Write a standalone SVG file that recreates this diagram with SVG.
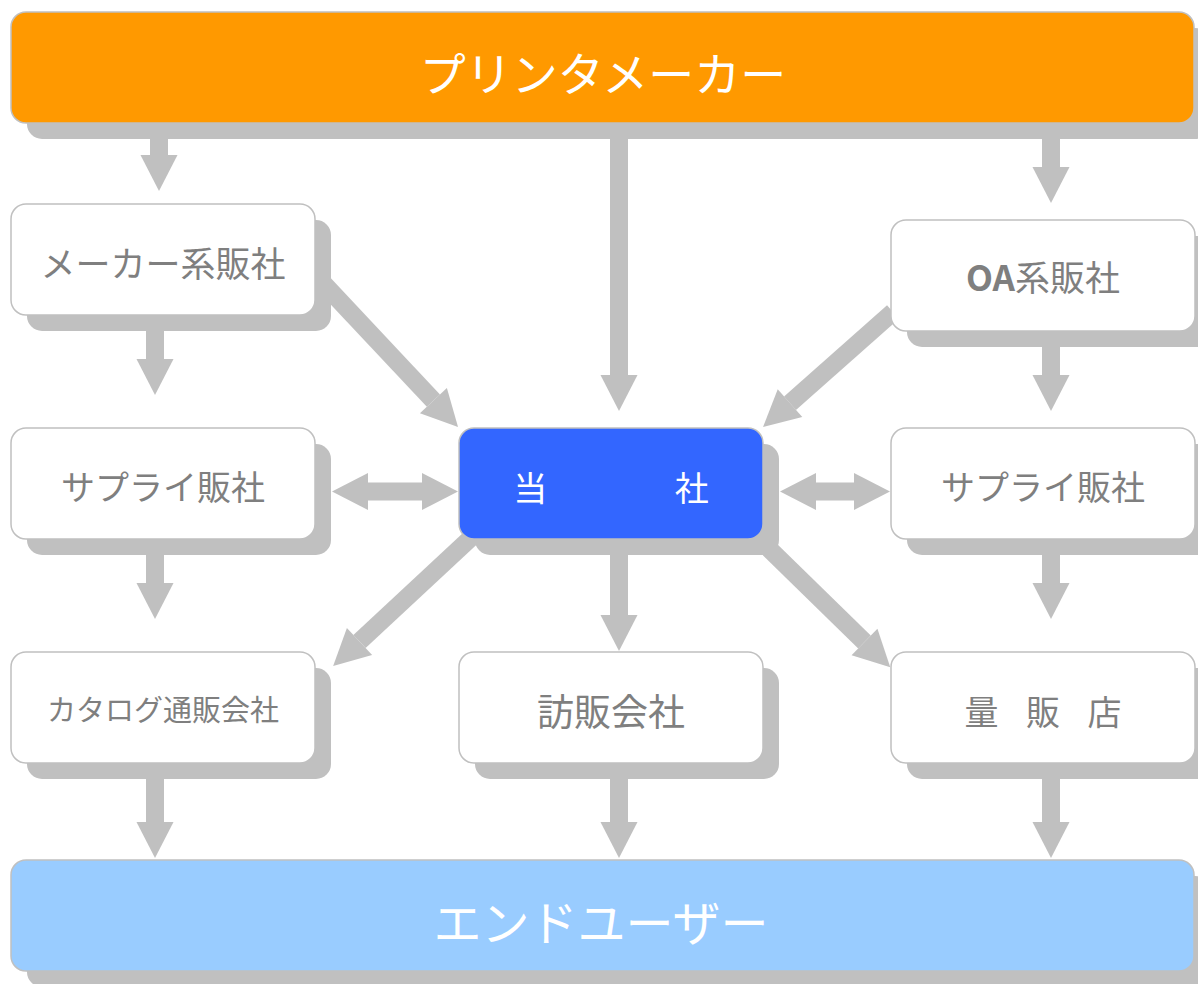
<svg xmlns="http://www.w3.org/2000/svg" width="1198" height="984" viewBox="0 0 1198 984">
<style>
.sh{fill:#c0c0c0}
.box{fill:#ffffff;stroke:#c0c0c0;stroke-width:1.5}
.lbl{font-family:"Noto Sans CJK JP","Noto Sans",sans-serif;font-size:34px;fill:#7f7f7f;text-anchor:middle}
.big{font-family:"Noto Sans CJK JP","Noto Sans",sans-serif;font-size:46px;fill:#ffffff;text-anchor:middle}
.cn{stroke:#c0c0c0;stroke-width:18;fill:none;marker-end:url(#ah)}
.dbl{marker-start:url(#ah)}
</style>
<defs>
<marker id="ah" markerUnits="userSpaceOnUse" markerWidth="37" markerHeight="38" refX="0" refY="18.5" orient="auto-start-reverse" viewBox="0 0 37 37" overflow="visible">
<path d="M0,0 L36,18.5 L0,37 z" fill="#c0c0c0"/>
</marker>
</defs>
<rect width="1198" height="984" fill="#ffffff"/>
<g id="connectors">
<line class="cn" x1="159" y1="125" x2="159" y2="155"/>
<line class="cn" x1="619" y1="125" x2="619" y2="375"/>
<line class="cn" x1="1051" y1="125" x2="1051" y2="167"/>
<line class="cn" x1="155" y1="320" x2="155" y2="359"/>
<line class="cn" x1="155" y1="530" x2="155" y2="583"/>
<line class="cn" x1="155" y1="750" x2="155" y2="822"/>
<line class="cn" x1="619" y1="530" x2="619" y2="615"/>
<line class="cn" x1="619" y1="750" x2="619" y2="822"/>
<line class="cn" x1="1051" y1="320" x2="1051" y2="375"/>
<line class="cn" x1="1051" y1="530" x2="1051" y2="583"/>
<line class="cn" x1="1051" y1="750" x2="1051" y2="822"/>
<line class="cn" x1="322" y1="282" x2="433.4" y2="400.7"/>
<line class="cn" x1="893" y1="312" x2="790" y2="403.2"/>
<line class="cn" x1="475" y1="534" x2="359.5" y2="641.5"/>
<line class="cn" x1="754" y1="534" x2="864.5" y2="642"/>
<line class="cn dbl" x1="368" y1="491.5" x2="422" y2="491.5"/>
<line class="cn dbl" x1="816" y1="491.5" x2="854" y2="491.5"/>
</g>
<g id="printer-maker">
<rect class="sh" x="27" y="28" width="1183" height="111" rx="15"/>
<rect x="11" y="12" width="1183" height="111" rx="15" fill="#ff9900" stroke="#c0c0c0" stroke-width="1.5"/>
<text class="big" x="603" y="91">プリンタメーカー</text>
</g>
<g id="maker-sales">
<rect class="sh" x="27" y="220" width="304" height="111" rx="15"/>
<rect class="box" x="11" y="204" width="304" height="111" rx="15"/>
<text class="lbl" x="163" y="277" style="font-size:35px">メーカー系販社</text>
</g>
<g id="oa-sales">
<rect class="sh" x="907" y="236" width="304" height="111" rx="15"/>
<rect class="box" x="891" y="220" width="304" height="111" rx="15"/>
<text class="lbl" x="1043" y="291" style="font-size:35px"><tspan font-weight="bold">OA</tspan>系販社</text>
</g>
<g id="supply-left">
<rect class="sh" x="27" y="444" width="304" height="111" rx="15"/>
<rect class="box" x="11" y="428" width="304" height="111" rx="15"/>
<text class="lbl" x="163" y="500">サプライ販社</text>
</g>
<g id="our-company">
<rect class="sh" x="475" y="444" width="304" height="111" rx="15"/>
<rect x="459" y="428" width="304" height="111" rx="15" fill="#3366ff" stroke="#c0c0c0" stroke-width="1.5"/>
<text class="lbl" x="611" y="501" style="fill:#ffffff" word-spacing="120">当 社</text>
</g>
<g id="supply-right">
<rect class="sh" x="907" y="444" width="304" height="111" rx="15"/>
<rect class="box" x="891" y="428" width="304" height="111" rx="15"/>
<text class="lbl" x="1043" y="500">サプライ販社</text>
</g>
<g id="catalog">
<rect class="sh" x="27" y="668" width="304" height="111" rx="15"/>
<rect class="box" x="11" y="652" width="304" height="111" rx="15"/>
<text class="lbl" x="163" y="721" style="font-size:29px">カタログ通販会社</text>
</g>
<g id="visit-sales">
<rect class="sh" x="475" y="668" width="304" height="111" rx="15"/>
<rect class="box" x="459" y="652" width="304" height="111" rx="15"/>
<text class="lbl" x="611" y="726" style="font-size:37px">訪販会社</text>
</g>
<g id="mass-retail">
<rect class="sh" x="907" y="668" width="304" height="111" rx="15"/>
<rect class="box" x="891" y="652" width="304" height="111" rx="15"/>
<text class="lbl" x="1043" y="725" word-spacing="20">量 販 店</text>
</g>
<g id="end-user">
<rect class="sh" x="27" y="876" width="1183" height="111" rx="15"/>
<rect x="11" y="860" width="1183" height="111" rx="15" fill="#99ccff" stroke="#c0c0c0" stroke-width="1.5"/>
<text class="big" x="601" y="941" style="font-size:48px">エンドユーザー</text>
</g>
</svg>
